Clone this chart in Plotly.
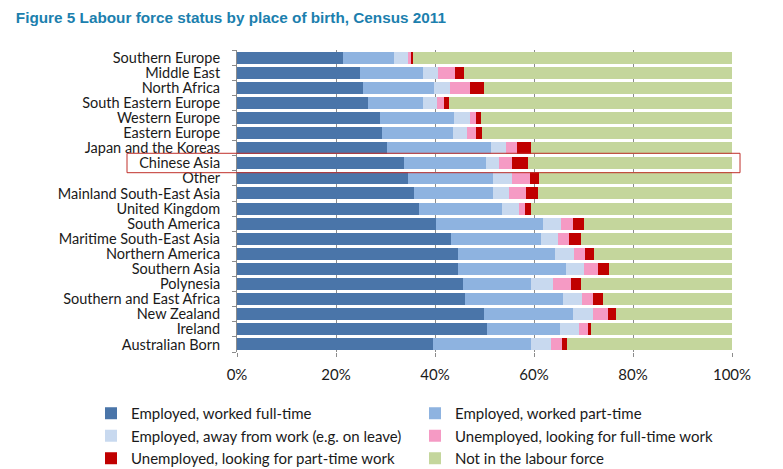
import plotly.graph_objects as go

# places of birth, top to bottom as in the figure
places = [
    "Southern Europe", "Middle East", "North Africa", "South Eastern Europe",
    "Western Europe", "Eastern Europe", "Japan and the Koreas", "Chinese Asia",
    "Other", "Mainland South-East Asia", "United Kingdom", "South America",
    "Maritime South-East Asia", "Northern America", "Southern Asia", "Polynesia",
    "Southern and East Africa", "New Zealand", "Ireland", "Australian Born",
]

# shares in percent
full_time = [21.5, 24.8, 25.5, 26.5, 28.8, 29.3, 30.3, 33.8, 34.6, 35.8,
             36.8, 40.2, 43.3, 44.6, 44.6, 45.6, 46.1, 49.8, 50.6, 39.5]
part_time = [10.2, 12.8, 14.2, 11.0, 15.1, 14.3, 21.0, 16.5, 17.2, 16.0,
             16.8, 21.7, 18.2, 19.7, 21.8, 13.7, 19.8, 18.0, 14.7, 19.8]
away = [2.9, 3.0, 3.3, 2.9, 3.1, 2.9, 3.1, 2.7, 3.7, 3.2,
        3.3, 3.5, 3.3, 3.8, 3.6, 4.5, 3.8, 4.1, 3.8, 4.1]
unemp_ft = [0.5, 3.5, 4.0, 1.5, 1.2, 1.8, 2.2, 2.6, 3.6, 3.4,
            1.2, 2.5, 2.3, 2.3, 2.9, 3.7, 2.2, 3.0, 1.8, 2.2]
unemp_pt = [0.5, 1.7, 2.8, 0.9, 1.1, 1.2, 2.8, 3.1, 2.0, 2.4,
            1.2, 2.2, 2.3, 1.7, 2.3, 1.9, 2.0, 1.6, 0.7, 1.1]
not_in_lf = [64.4, 54.2, 50.2, 57.2, 50.7, 50.5, 40.6, 41.3, 38.9, 39.2,
             40.7, 29.9, 30.6, 27.9, 24.8, 30.6, 26.1, 23.5, 28.4, 33.3]

# (name, values, colour, legend column)
series = [
    ("Employed, worked full-time", full_time, "#4a75a9", "legend"),
    ("Employed, worked part-time", part_time, "#8eb3e0", "legend2"),
    ("Employed, away from work (e.g. on leave)", away, "#c8d9ef", "legend"),
    ("Unemployed, looking for full-time work", unemp_ft, "#f59ac4", "legend2"),
    ("Unemployed, looking for part-time work", unemp_pt, "#c00000", "legend"),
    ("Not in the labour force", not_in_lf, "#c4d69c", "legend2"),
]

fig = go.Figure()
for name, vals, col, leg in series:
    fig.add_trace(go.Bar(
        y=places, x=vals, name=name, orientation="h", legend=leg,
        marker=dict(color=col, line=dict(width=0)),
    ))

FONT = "Lato"

legend_style = dict(
    orientation="v", xref="container", yref="container",
    xanchor="left", y=0.1706, yanchor="top",
    itemwidth=30, font=dict(family=FONT, size=15),
    traceorder="normal", bgcolor="rgba(0,0,0,0)",
)

fig.update_layout(
    width=783, height=469,
    barmode="stack", bargap=0.2,
    plot_bgcolor="white", paper_bgcolor="white",
    # page body adds ~8px offset, margins compensate for it
    margin=dict(l=229, r=59, t=42, b=125, autoexpand=False),
    font=dict(family=FONT, size=14.5, color="#1a1a1a"),
    title=dict(
        text="<b>Figure 5 Labour force status by place of birth, Census 2011</b>",
        x=0.01, xanchor="left", xref="container",
        y=0.979, yanchor="middle", yref="container",
        font=dict(family="Liberation Sans", size=15.3, color="#1c7fae"),
    ),
    xaxis=dict(
        range=[0, 100], dtick=20, ticksuffix="%",
        showgrid=True, gridcolor="#8c8c8c", gridwidth=1,
        zeroline=False, showline=False, automargin=False,
        ticks="outside", ticklen=4, tickcolor="#8c8c8c",
        ticklabelstandoff=5, tickfont=dict(size=15),
    ),
    yaxis=dict(
        autorange="reversed", automargin=False,
        tickmode="array", tickvals=places,
        showline=True, linecolor="#8c8c8c",
        ticks="outside", ticklen=4, tickcolor="#8c8c8c",
        tickson="boundaries", showgrid=False,
        ticklabelstandoff=13,
    ),
    legend=dict(x=0.106, **legend_style),
    legend2=dict(x=0.5198, **legend_style),
)

# highlight box around Chinese Asia
fig.add_shape(
    type="rect", xref="paper", yref="paper",
    x0=-0.2222, x1=1.0162, y0=0.5937, y1=0.658,
    line=dict(color="#c0302b", width=1), fillcolor="rgba(0,0,0,0)",
)

fig.write_html("out.html")
